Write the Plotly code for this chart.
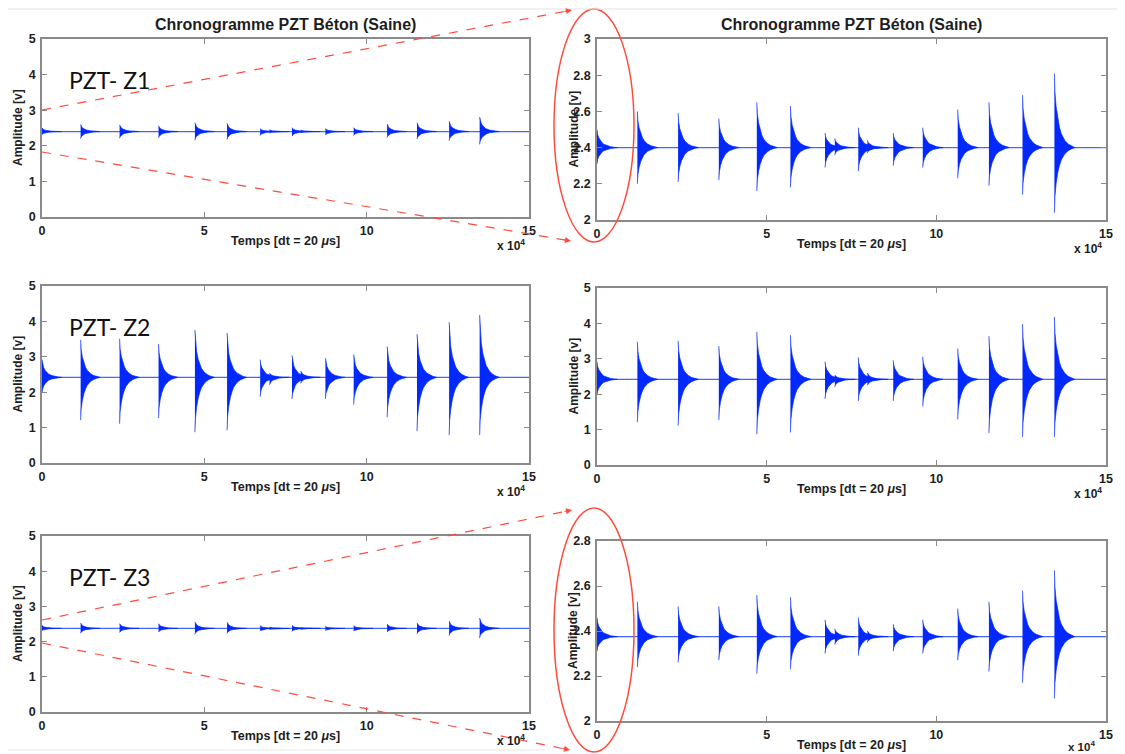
import plotly.graph_objects as go

W, H = 1125, 754
OFF = 8  # page body margin of the html page

# ---------------- data ----------------
# burst onset times (samples, x axis shown in units of 1e4)
burst_t = [0, 11900, 23900, 35900, 47100, 57000, 67200, 70100, 77000, 79700,
           87300, 96000, 106300, 115500, 125400, 134800]

# PZT-Z1 : peak max / min of each burst and resting level
z1_top = [2.50, 2.60, 2.59, 2.56, 2.65, 2.63, 2.48, 2.45, 2.51, 2.44, 2.48, 2.51, 2.61, 2.65, 2.69, 2.81]
z1_bot = [2.31, 2.20, 2.21, 2.22, 2.16, 2.18, 2.29, 2.36, 2.27, 2.37, 2.30, 2.29, 2.23, 2.19, 2.14, 2.04]
z1_base = 2.40

# PZT-Z2
z2_top = [2.92, 3.48, 3.51, 3.36, 3.76, 3.67, 2.92, 2.54, 3.04, 2.60, 2.96, 3.06, 3.29, 3.64, 3.98, 4.18]
z2_bot = [1.97, 1.21, 1.11, 1.27, 0.87, 0.92, 1.87, 2.21, 1.81, 2.25, 1.81, 1.65, 1.29, 0.90, 0.79, 0.79]
z2_base = 2.42

# PZT-Z3
z3_top = [2.46, 2.53, 2.51, 2.51, 2.56, 2.55, 2.45, 2.41, 2.46, 2.40, 2.43, 2.45, 2.50, 2.53, 2.58, 2.67]
z3_bot = [2.31, 2.24, 2.26, 2.27, 2.21, 2.23, 2.30, 2.34, 2.29, 2.35, 2.31, 2.30, 2.27, 2.22, 2.17, 2.10]
z3_base = 2.375

# decay envelope of one burst (offset in samples, fraction of peak)
env_offset = [0, 150, 500, 1000, 1500, 2000, 3000, 4000, 5000, 6000]
env_frac = [1.0, 0.75, 0.55, 0.38, 0.27, 0.19, 0.10, 0.05, 0.02, 0.0]

x_ticks = [0, 50000, 100000, 150000]
x_ticktext = ["0", "5", "10", "15"]
x_max = 150000

title_text = "Chronogramme PZT Béton (Saine)"
xlabel_text = "Temps [dt = 20 <i>μ</i>s]"
ylabel_text = "Amplitude [v]"
panel_labels = ["PZT- Z1", "PZT- Z2", "PZT- Z3"]

# ---------------- helpers ----------------
BLUE = "rgb(0,40,255)"
FRAME = "#8a8a8a"
TXT = "#1e1e1e"
RED = "rgb(255,75,60)"
FONT = "Liberation Sans, Arial"


def px(x):
    return (x - OFF) / W


def py(y):
    return 1 - (y - OFF) / H


def bursts(top, bot, base):
    xs, ys = [], []
    for t, hi, lo in zip(burst_t, top, bot):
        xx = [t + o for o in env_offset]
        up = [base + (hi - base) * f for f in env_frac]
        dn = [base - (base - lo) * f for f in env_frac]
        xs += xx + xx[::-1] + [None]
        ys += up + dn[::-1] + [None]
    return xs, ys


def txt(x, y, text, size, weight="bold", family=FONT, angle=0, xanchor="center", color=TXT):
    return dict(x=px(x), y=py(y), xref="paper", yref="paper", text=text, showarrow=False,
                xanchor=xanchor, yanchor="middle", textangle=angle,
                font=dict(family=family, size=size, color=color, weight=weight))


fig = go.Figure()

# panel definitions: (pixel box l, r, t, b), data, y range, y ticks
panels = [
    ((42, 529, 39, 217), (z1_top, z1_bot, z1_base), [0, 5], [0, 1, 2, 3, 4, 5], ["0", "1", "2", "3", "4", "5"]),
    ((597, 1106, 39, 220), (z1_top, z1_bot, z1_base), [2, 3], [2, 2.2, 2.4, 2.6, 2.8, 3], ["2", "2.2", "2.4", "2.6", "2.8", "3"]),
    ((42, 529, 286, 463), (z2_top, z2_bot, z2_base), [0, 5], [0, 1, 2, 3, 4, 5], ["0", "1", "2", "3", "4", "5"]),
    ((597, 1106, 288, 465), (z2_top, z2_bot, z2_base), [0, 5], [0, 1, 2, 3, 4, 5], ["0", "1", "2", "3", "4", "5"]),
    ((42, 529, 536, 712), (z3_top, z3_bot, z3_base), [0, 5], [0, 1, 2, 3, 4, 5], ["0", "1", "2", "3", "4", "5"]),
    ((597, 1106, 541, 721), (z3_top, z3_bot, z3_base), [2, 2.8], [2, 2.2, 2.4, 2.6, 2.8], ["2", "2.2", "2.4", "2.6", "2.8"]),
]

annotations = []
tickfont = dict(family=FONT, size=12.5, color=TXT, weight="bold")

for i, (box, (top, bot, base), yr, yt, ytt) in enumerate(panels):
    l, r, t, b = box
    n = "" if i == 0 else str(i + 1)
    xa = "x" + n
    ya = "y" + n
    # baseline
    fig.add_trace(go.Scatter(x=[0, x_max], y=[base, base], mode="lines",
                             line=dict(color="rgb(70,100,255)", width=1.2),
                             xaxis=xa, yaxis=ya, showlegend=False, hoverinfo="skip"))
    bx, by = bursts(top, bot, base)
    fig.add_trace(go.Scatter(x=bx, y=by, mode="lines", fill="toself",
                             fillcolor=BLUE, line=dict(color=BLUE, width=0.7),
                             xaxis=xa, yaxis=ya, showlegend=False, hoverinfo="skip"))
    common = dict(showline=True, linecolor=FRAME, linewidth=1.5, mirror="ticks",
                  ticks="inside", ticklen=5, tickcolor=FRAME, tickwidth=1,
                  showgrid=False, zeroline=False, tickfont=tickfont, automargin=False)
    fig.update_layout(**{
        ("xaxis" + n): dict(domain=[px(l), px(r)], range=[0, x_max], tickvals=x_ticks,
                            ticktext=x_ticktext, anchor=ya, ticklabelstandoff=1, **common),
        ("yaxis" + n): dict(domain=[py(b), py(t)], range=yr, tickvals=yt, ticktext=ytt,
                            anchor=xa, ticklabelstandoff=2, **common),
    })
    cx = (l + r) / 2
    cy = (t + b) / 2
    annotations.append(txt(cx, b + 24, xlabel_text, 12.5))
    if i < 5:
        annotations.append(txt(r - 18, b + 28, "x 10<sup>4</sup>", 12))
    else:
        annotations.append(txt(r - 25, 746, "x 10<sup>4</sup>", 11.5))
    annotations.append(txt(l - 24, cy, ylabel_text, 12, angle=-90))
    if i in (0, 1):
        annotations.append(txt(cx, 24, title_text, 16))
    if i % 2 == 0:
        annotations.append(txt(67, t + 41, panel_labels[i // 2], 23, weight="normal",
                               family="Lato, Open Sans", xanchor="left", color="#111"))

# ---------------- zoom callouts ----------------
shapes = []
callouts = [((42, 110), (572, 10)), ((42, 152), (571, 241)),
            ((42, 620), (572, 510)), ((42, 643), (570, 750))]
for (x0, y0), (x1, y1) in callouts:
    shapes.append(dict(type="line", xref="paper", yref="paper",
                       x0=px(x0), y0=py(y0), x1=px(x1 - 4), y1=py(y1 - (y1 - y0) * 4 / (x1 - x0)),
                       line=dict(color=RED, width=1.2, dash="dash")))
    dx, dy = x1 - x0, y1 - y0
    norm = (dx ** 2 + dy ** 2) ** 0.5
    annotations.append(dict(x=px(x1), y=py(y1), xref="paper", yref="paper",
                            ax=-9 * dx / norm, ay=-9 * dy / norm, axref="pixel", ayref="pixel",
                            showarrow=True, arrowhead=2, arrowsize=1, arrowwidth=1.2,
                            arrowcolor=RED, text=""))
for (y0, y1) in [(9, 242), (508, 752)]:
    shapes.append(dict(type="circle", xref="paper", yref="paper",
                       x0=px(554), x1=px(634), y0=py(y1), y1=py(y0),
                       line=dict(color=RED, width=1.5)))
# faint collage borders
shapes.append(dict(type="line", xref="paper", yref="paper", x0=0, x1=1, y0=py(9), y1=py(9),
                   line=dict(color="#e2e2e2", width=1)))
shapes.append(dict(type="line", xref="paper", yref="paper", x0=0, x1=px(545), y0=py(750), y1=py(750),
                   line=dict(color="#e6e6e6", width=1)))

fig.update_layout(template="none", width=W, height=H, margin=dict(l=0, r=0, t=0, b=0, autoexpand=False),
                  paper_bgcolor="white", plot_bgcolor="white",
                  annotations=annotations, shapes=shapes, showlegend=False)

fig.write_html("out.html")
